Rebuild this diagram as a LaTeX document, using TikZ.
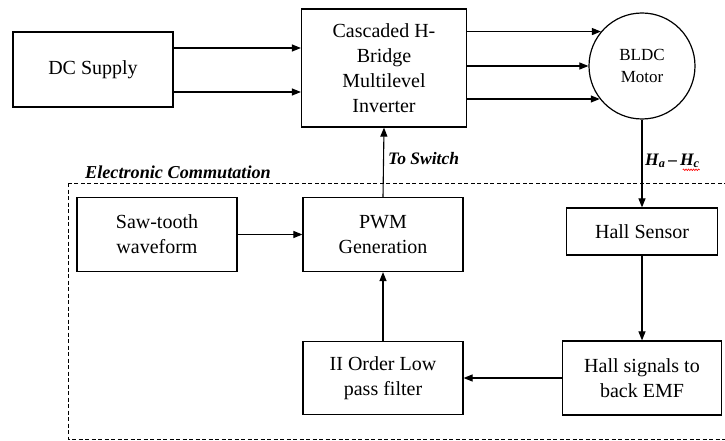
\documentclass[tikz,border=0pt]{standalone}
\usepackage{fontspec}
\setmainfont{Liberation Serif}
\usetikzlibrary{arrows.meta,decorations.pathmorphing}
\begin{document}
\begin{tikzpicture}[x=1pt,y=-1pt,
  blk/.style={draw, line width=1.2pt, rectangle, align=center, inner sep=2pt, font=\fontsize{20}{25}\selectfont},
  arr/.style={line width=1.1pt, -{Triangle[length=9pt,width=7pt]}},
  lbl/.style={font=\fontsize{17.5}{21}\selectfont\bfseries\itshape, inner sep=0pt},
  grp/.style={line width=1pt, dash pattern=on 4pt off 2.5pt}]
\clip (0,0) rectangle (725,441);
\fill[white] (0,0) rectangle (725,441);
% top row
\node[blk, minimum width=160pt, minimum height=75pt] (dc) at (93,69.5) {DC Supply};
\node[blk, minimum width=165pt, minimum height=118pt] (inv) at (384,68) {Cascaded H-\\Bridge\\Multilevel\\Inverter};
\node[draw, circle, line width=1.2pt, minimum size=106pt, inner sep=0pt, align=center, font=\fontsize{17}{22}\selectfont] (motor) at (642,66) {BLDC\\Motor};
% group box
\draw[grp] (68,183) rectangle (740,439);
\node[lbl, anchor=west, font=\fontsize{18.2}{21}\selectfont\bfseries\itshape] (ec) at (85,172) {Electronic Commutation};
% inner blocks
\node[blk, minimum width=160pt, minimum height=74pt] (saw) at (157,234.5) {Saw-tooth\\waveform};
\node[blk, minimum width=160pt, minimum height=74pt] (pwm) at (383,234.5) {PWM\\Generation};
\node[blk, minimum width=151pt, minimum height=47pt] (hall) at (642,231.5) {Hall Sensor};
\node[blk, minimum width=159pt, minimum height=74pt] (hsig) at (642,378) {Hall signals to\\back EMF};
\node[blk, minimum width=160pt, minimum height=73pt] (lpf) at (383,378) {II Order Low\\pass filter};
% connectors
\coordinate (d1) at ([yshift=21.5pt]dc.east);
\coordinate (d2) at ([yshift=-22.5pt]dc.east);
\draw[arr] (d1) -- (d1 -| inv.west);
\draw[arr] (d2) -- (d2 -| inv.west);
\draw[arr] (inv.east |- motor.140) -- (motor.140);
\draw[arr] (inv.east |- motor.180) -- (motor.180);
\draw[arr] (inv.east |- motor.218) -- (motor.218);
\draw[arr] (motor.south) -- (hall.north);
\draw[arr] (hall.south) -- (hsig.north);
\draw[arr] (hsig.west) -- (lpf.east);
\draw[arr] (lpf.north) -- (pwm.south);
\draw[arr] (saw.east) -- (pwm.west);
\draw[arr] (pwm.north) -- (inv.south);
% labels
\node[lbl, anchor=west] (tosw) at (388,159) {To Switch};
\node[lbl, anchor=west] (hlab) at (645,161) {H\textsubscript{a}\,–\,H\textsubscript{c}};
\draw[red, line width=0.6pt, decorate, decoration={snake, amplitude=0.8pt, segment length=2.5pt}] ([xshift=-17pt,yshift=-1.5pt]hlab.south east) -- ([yshift=-1.5pt]hlab.south east);
\end{tikzpicture}
\end{document}
